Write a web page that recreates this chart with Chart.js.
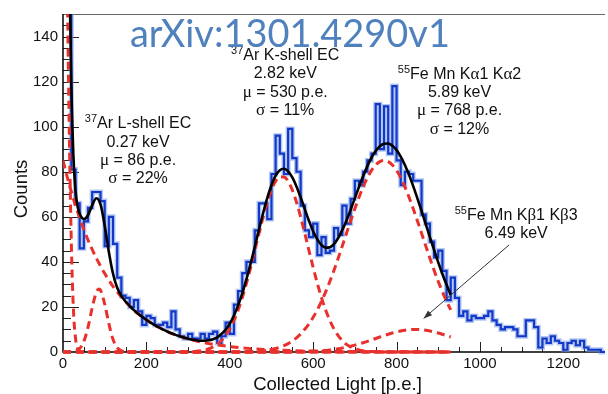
<!DOCTYPE html>
<html>
<head>
<meta charset="utf-8">
<script src="https://cdn.jsdelivr.net/npm/chart.js@4.4.1/dist/chart.umd.min.js"></script>
<style>html,body{margin:0;padding:0;background:#fff}canvas{display:block}</style>
</head>
<body>
<canvas id="c" width="608" height="394"></canvas>
<script>
// ---------------- data ----------------
// histogram: lower bin edges [p.e.] and counts
const lightBins = [
  0,10,20,30,40,50,60,70,80,90,
  100,110,120,130,140,150,160,170,180,190,
  200,210,220,230,240,250,260,270,280,290,
  300,310,320,330,340,350,360,370,380,390,
  400,410,420,430,440,450,460,470,480,490,
  500,510,520,530,540,550,560,570,580,590,
  600,610,620,630,640,650,660,670,680,690,
  700,710,720,730,740,750,760,770,780,790,
  800,810,820,830,840,850,860,870,880,890,
  900,910,920,930,940,950,960,970,980,990,
  1000,1010,1020,1030,1040,1050,1060,1070,1080,1090,
  1100,1110,1120,1130,1140,1150,1160,1170,1180,1190,
  1200,1210,1220,1230,1240,1250,1260,1270,1280,1290
];
const counts = [
  400,175,81,66,46,58,64,71,71,67,
  47,60,48,33,25,24,20,23,18,12,
  16,15,12,12,13,11,18,10,7,6,
  8,6,6,8,6,8,9,4,7,13,
  8,21,27,35,40,40,54,66,66,59,
  79,96,88,79,99,86,80,65,54,51,
  57,43,51,44,45,55,52,65,57,68,
  76,74,80,85,88,110,90,109,88,118,
  85,74,80,79,76,76,61,57,49,42,
  45,36,23,33,24,16,18,14,16,15,
  15,16,18,14,12,10,11,11,10,7,
  7,14,14,11,2,6,4,7,5,4,
  1,4,5,3,5,2,1,1,1,0
];
const histEnd = 1300;

// total fit (black)
const fitX = [0,5,10,15,20,25,30,35,40,50,60,70,80,90,100,110,120,130,140,150,160,170,180,190,
  200,210,220,230,240,250,260,270,280,290,300,310,320,330,340,350,360,370,380,390,
  400,410,420,430,440,450,460,470,480,490,500,510,520,530,540,550,560,570,580,590,
  600,610,620,630,640,650,660,670,680,690,700,710,720,730,740,750,760,770,780,790,
  800,810,820,830,840,850,860,870,880,890,900,910,920,930];
const fitTotal = [335,306.8,243.1,172.9,119.1,87.0,71.5,64.6,61.3,59.0,60.7,65.1,68.2,65.5,56.1,44.4,34.7,28.5,24.9,22.4,20.4,18.6,17.0,15.6,
  14.3,13.0,11.9,10.9,10.0,9.1,8.3,7.6,7.0,6.4,5.9,5.5,5.2,5.0,5.0,5.2,5.7,6.5,8.0,9.9,
  12.6,16.2,20.7,26.0,32.3,39.2,46.7,54.3,61.7,68.4,74.0,78.3,80.7,81.3,80.2,77.5,73.5,68.6,63.4,58.2,
  53.6,50.0,47.5,46.3,46.5,47.9,50.6,54.2,58.4,63.2,68.3,73.3,78.1,82.5,86.3,89.2,91.3,92.4,92.5,91.5,
  89.6,86.7,83.0,78.6,73.6,68.2,62.6,56.8,51.0,45.3,39.8,34.6,29.8,25.4];

// components (red dashed)
const pedX = [0,5,10,15,20,25,30,35,40,45,50,930];
const pedY = [250,225.5,165.4,98.6,47.9,18.9,6.1,1.6,0.3,0.06,0,0];

const bgX = [0,10,20,30,40,50,60,70,80,90,100,120,140,160,180,200,220,240,260,280,300,320,340,360,380,400,450,500,550,600,700,800,930];
const bgY = [85,77.7,71.1,65.0,59.5,54.4,49.7,45.5,41.6,38.1,34.8,29.1,24.4,20.4,17.0,14.3,11.9,10.0,8.3,7.0,5.8,4.9,4.1,3.4,2.9,2.4,1.5,1.0,0.6,0.4,0.2,0.1,0.0];

const lShellX = [0,20,30,40,50,60,70,80,86,90,100,110,120,130,140,150,160,930];
const lShellY = [0,0.07,0.4,1.5,4.7,11.0,19.6,26.6,28,27.4,21.3,12.6,5.6,1.9,0.5,0.1,0,0];

const kShellX = [0,250,300,310,320,330,340,350,360,370,380,390,400,410,420,430,440,450,460,470,480,490,
  500,510,520,530,540,550,560,570,580,590,600,610,620,630,640,650,660,670,680,690,
  700,710,720,730,740,750,760,770,780,850,930];
const kShellY = [0,0,0.11,0.19,0.33,0.55,0.91,1.45,2.26,3.4,5.1,7.3,10.2,14.0,18.6,24.1,30.5,37.5,45.0,52.6,59.9,66.5,
  71.9,75.8,77.7,77.7,75.8,71.9,66.5,59.9,52.6,45.0,37.5,30.5,24.1,18.6,14.0,10.2,7.3,5.1,3.4,2.26,
  1.45,0.91,0.55,0.33,0.19,0.11,0.06,0.03,0.02,0,0];

const kAlphaX = [0,350,390,430,470,490,500,510,520,530,540,550,560,570,580,590,600,610,620,630,640,650,660,670,680,690,
  700,710,720,730,740,750,760,770,780,790,800,810,820,830,840,850,860,870,880,890,900,910,920,930];
const kAlphaY = [0,0,0.01,0.09,0.4,0.8,1.15,1.6,2.1,2.8,3.7,4.9,6.3,8.0,10.1,12.5,15.4,18.7,22.5,26.7,31.3,36.3,41.6,47.1,52.7,58.2,
  63.6,68.7,73.3,77.3,80.6,83.0,84.5,85.0,84.5,83.0,80.6,77.3,73.3,68.7,63.6,58.2,52.7,47.1,41.6,36.3,31.3,26.7,22.5,18.7];

const kBetaX = [0,450,500,540,560,580,600,620,640,650,660,670,680,690,700,710,720,730,740,750,760,770,780,790,
  800,810,820,830,840,850,860,870,880,890,900,910,920,930];
const kBetaY = [0,0,0.01,0.05,0.1,0.19,0.33,0.57,0.93,1.16,1.44,1.77,2.14,2.57,3.04,3.57,4.13,4.73,5.36,6.0,6.64,7.27,7.87,8.43,
  8.92,9.33,9.65,9.87,10.0,10.0,9.87,9.65,9.33,8.92,8.43,7.87,7.27,6.64];

const xTickLabels = [0,200,400,600,800,1000,1200];
const yTickLabels = [0,20,40,60,80,100,120,140];

// ---------------- text ----------------
const SANS = "'Liberation Sans', Arial, Helvetica, sans-serif";
const SERIF = "'Liberation Serif', 'Times New Roman', serif";
const annotations = [
  { at: [180, 99.3], lines: [
      [['sup','37'],['t','Ar L-shell EC']],
      [['t','0.27 keV']],
      [['g','\u03bc'],['t',' = 86 p.e.']],
      [['g','\u03c3'],['t',' = 22%']] ] },
  { at: [533, 129.5], lines: [
      [['sup','37'],['t','Ar K-shell EC']],
      [['t','2.82 keV']],
      [['g','\u03bc'],['t',' = 530 p.e.']],
      [['g','\u03c3'],['t',' = 11%']] ] },
  { at: [951, 121.3], lines: [
      [['sup','55'],['t','Fe Mn K'],['g','\u03b1'],['t','1 K'],['g','\u03b1'],['t','2']],
      [['t','5.89 keV']],
      [['g','\u03bc'],['t',' = 768 p.e.']],
      [['g','\u03c3'],['t',' = 12%']] ] },
  { at: [1087, 58.5], lines: [
      [['sup','55'],['t','Fe Mn K'],['g','\u03b2'],['t','1 K'],['g','\u03b2'],['t','3']],
      [['t','6.49 keV']] ] }
];
const arrowFrom = [1070, 47.5];
const arrowTo = [865, 14.9];

function fontFor(k){
  if (k === 'sup') return `11px ${SANS}`;
  if (k === 'g') return `17px ${SERIF}`;
  return `16px ${SANS}`;
}
function drawRich(ctx, parts, cx, by){
  let w = 0;
  const ws = parts.map(p => { ctx.font = fontFor(p[0]); const m = ctx.measureText(p[1]).width; w += m; return m; });
  let xx = cx - w/2;
  parts.forEach((p,i) => {
    ctx.font = fontFor(p[0]);
    ctx.fillText(p[1], xx, p[0]==='sup' ? by-6 : by);
    xx += ws[i];
  });
}

const rootPlugin = {
  id: 'rootFrame',
  beforeDatasetsDraw(chart){
    const {ctx, chartArea:a, scales:{x, y}} = chart;
    ctx.save();
    // top frame line
    ctx.strokeStyle = '#666'; ctx.lineWidth = 1;
    ctx.beginPath(); ctx.moveTo(a.left, a.top+0.5); ctx.lineTo(a.right, a.top+0.5); ctx.stroke();
    // inside tick marks
    ctx.strokeStyle = '#222'; ctx.lineWidth = 1;
    ctx.beginPath();
    x.ticks.forEach(t => {
      if (t.value <= x.min || t.value >= x.max) return;
      const px = Math.round(x.getPixelForValue(t.value)) + 0.5;
      const len = xTickLabels.includes(t.value) ? 10 : 5;
      ctx.moveTo(px, a.bottom); ctx.lineTo(px, a.bottom - len);
    });
    y.ticks.forEach(t => {
      if (t.value <= y.min || t.value >= y.max) return;
      const py = Math.round(y.getPixelForValue(t.value)) + 0.5;
      const len = yTickLabels.includes(t.value) ? 16 : 8;
      ctx.moveTo(a.left, py); ctx.lineTo(a.left + len, py);
    });
    ctx.stroke();
    // axes
    ctx.strokeStyle = '#000'; ctx.lineWidth = 1.5;
    ctx.beginPath();
    ctx.moveTo(a.left, a.top); ctx.lineTo(a.left, a.bottom); ctx.lineTo(a.right, a.bottom);
    ctx.stroke();
    ctx.restore();
  },
  afterDatasetsDraw(chart){
    const {ctx, scales:{x, y}} = chart;
    ctx.save();
    ctx.fillStyle = '#111';
    ctx.textAlign = 'left';
    ctx.textBaseline = 'alphabetic';
    annotations.forEach(an => {
      const cx = x.getPixelForValue(an.at[0]);
      const by = y.getPixelForValue(an.at[1]);
      an.lines.forEach((ln, i) => drawRich(ctx, ln, cx, by + i*18.3));
    });
    // arrow
    const x0 = x.getPixelForValue(arrowFrom[0]), y0 = y.getPixelForValue(arrowFrom[1]);
    const x1 = x.getPixelForValue(arrowTo[0]), y1 = y.getPixelForValue(arrowTo[1]);
    ctx.strokeStyle = '#333'; ctx.fillStyle = '#333'; ctx.lineWidth = 1;
    ctx.beginPath(); ctx.moveTo(x0, y0); ctx.lineTo(x1, y1); ctx.stroke();
    const ang = Math.atan2(y1 - y0, x1 - x0), L = 9, W = 0.35;
    ctx.beginPath();
    ctx.moveTo(x1, y1);
    ctx.lineTo(x1 - L*Math.cos(ang - W), y1 - L*Math.sin(ang - W));
    ctx.lineTo(x1 - L*Math.cos(ang + W), y1 - L*Math.sin(ang + W));
    ctx.closePath(); ctx.fill();
    // axis titles
    ctx.fillStyle = '#111';
    ctx.font = `18.5px ${SANS}`;
    ctx.textAlign = 'center';
    ctx.fillText('Collected Light [p.e.]', 337.5, 390);
    ctx.save();
    ctx.translate(26.5, 189);
    ctx.rotate(-Math.PI/2);
    ctx.fillText('Counts', 0, 0);
    ctx.restore();
    // arXiv stamp
    const stamp = 'arXiv:1301.4290v1';
    ctx.font = `42px Lato, 'Open Sans', sans-serif`;
    const sw = ctx.measureText(stamp).width;
    const fs = 42 * 320 / sw;
    ctx.font = `${fs.toFixed(2)}px Lato, 'Open Sans', sans-serif`;
    ctx.fillStyle = '#4f81bd';
    ctx.textAlign = 'left';
    ctx.fillText(stamp, 130, 47);
    ctx.restore();
  }
};

const toPts = (xs, ys) => xs.map((v, i) => ({x: v, y: ys[i]}));
const histPts = toPts(lightBins, counts).concat([{x: histEnd, y: counts[counts.length-1]}]);

const RED = '#e8312c';
const CLIP = {left: 0, top: 0, right: 0, bottom: 4};
const redDs = (xs, ys) => ({data: toPts(xs, ys), borderColor: RED, borderWidth: 3, borderDash: [8,5],
  cubicInterpolationMode: 'monotone', pointRadius: 0, fill: false, clip: CLIP});

new Chart(document.getElementById('c'), {
  type: 'line',
  data: {
    datasets: [
      {data: toPts(fitX, fitTotal), borderColor: '#000', borderWidth: 2.6, cubicInterpolationMode: 'monotone', pointRadius: 0, clip: CLIP},
      redDs(pedX, pedY),
      redDs(bgX, bgY),
      redDs(lShellX, lShellY),
      redDs(kShellX, kShellY),
      redDs(kAlphaX, kAlphaY),
      redDs(kBetaX, kBetaY),
      {data: histPts, stepped: true, borderColor: '#1238c8', borderWidth: 2.2, pointRadius: 0, clip: CLIP},
      {data: histPts, stepped: true, borderColor: 'rgba(120,155,235,0.55)', borderWidth: 5, pointRadius: 0, clip: CLIP}
    ]
  },
  options: {
    responsive: false, animation: false, devicePixelRatio: 1,
    layout: {padding: {top: 11, right: 0, left: 0, bottom: 0}},
    plugins: {legend: {display: false}, tooltip: {enabled: false}},
    scales: {
      x: {type: 'linear', min: 0, max: 1300,
        grid: {display: false, drawTicks: false}, border: {display: false},
        ticks: {stepSize: 50, autoSkip: false, maxRotation: 0, padding: 3, color: '#111',
          font: {family: SANS, size: 15},
          callback: v => xTickLabels.includes(v) ? String(v) : ''},
        afterFit: s => { s.height = 42; }},
      y: {type: 'linear', min: 0, max: 150,
        grid: {display: false, drawTicks: false}, border: {display: false},
        ticks: {stepSize: 5, autoSkip: false, padding: 5, color: '#111',
          font: {family: SANS, size: 15},
          callback: v => yTickLabels.includes(v) ? String(v) : ''},
        afterFit: s => { s.width = 63; }}
    }
  },
  plugins: [rootPlugin]
});
</script>
</body>
</html>
